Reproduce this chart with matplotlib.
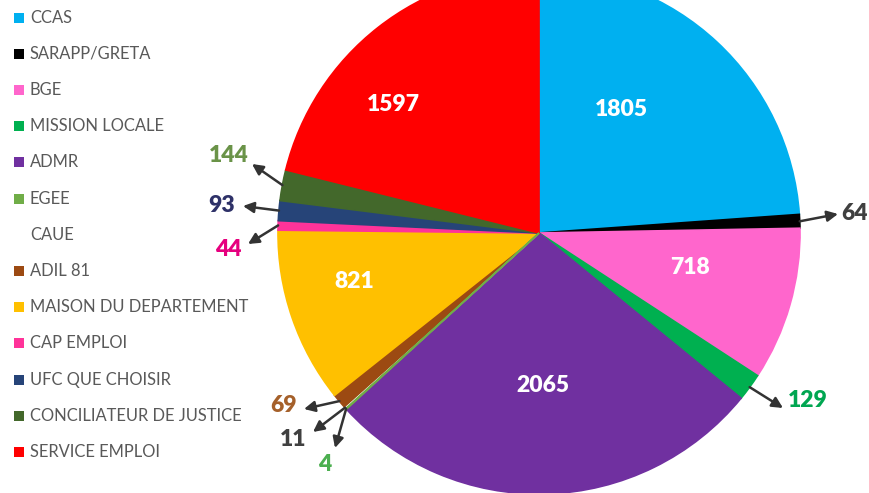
import matplotlib
matplotlib.use("Agg")
import matplotlib.pyplot as plt
from matplotlib.patches import Rectangle
import numpy as np

categories = ["CCAS", "SARAPP/GRETA", "BGE", "MISSION LOCALE", "ADMR", "EGEE", "CAUE",
              "ADIL 81", "MAISON DU DEPARTEMENT", "CAP EMPLOI", "UFC QUE CHOISIR",
              "CONCILIATEUR DE JUSTICE", "SERVICE EMPLOI"]
values = [1805, 64, 718, 129, 2065, 4, 11, 69, 821, 44, 93, 144, 1597]
colors = ["#00B0F0", "#000000", "#FF66CC", "#00B050", "#7030A0", "#70AD47", "#FFFFFF",
          "#9C4A12", "#FFC000", "#FF3399", "#264478", "#43682B", "#FF0000"]

W, H = 870, 493
fig = plt.figure(figsize=(W / 100, H / 100), dpi=100)
ax = fig.add_axes([0, 0, 1, 1])

cx, cy, R = 539, H - 233, 261
wedges, _ = ax.pie(values, colors=colors, startangle=90, counterclock=False,
                   center=(cx, cy), radius=R, wedgeprops=dict(linewidth=0))
for w, c in zip(wedges, colors):
    w.set_edgecolor(c)
    w.set_linewidth(1.2)
wedges[5].set_zorder(wedges[6].get_zorder() + 0.5)
ax.set_xlim(0, W)
ax.set_ylim(0, H)
ax.set_aspect("equal")
ax.axis("off")

font = "Lato"
# inside labels (pixel positions, y from top)
inside = {0: (621, 110), 2: (690, 268), 4: (543, 385), 8: (354, 282), 12: (393, 104)}
for i, (px, py) in inside.items():
    ax.text(px, H - py, str(values[i]), color="white", fontsize=16.5, fontweight="heavy",
            family=font, ha="center", va="center")

# outside labels: index -> (label pos, arrow end, color)
outside = {
    1: ((855, 214), (838, 214), "#404040"),
    3: ((808, 401), (783, 408), "#00A651"),
    5: ((325, 465), (335, 448), "#4CAF50"),
    6: ((293, 440), (313, 432), "#404040"),
    7: ((284, 406), (304, 409), "#A5602A"),
    9: ((228, 250), (248, 244), "#E6007E"),
    10: ((222, 206), (243, 206), "#2E3168"),
    11: ((229, 156), (252, 164), "#6A9348"),
}
for i, (lp, ae, col) in outside.items():
    w = wedges[i]
    mid = np.deg2rad((w.theta1 + w.theta2) / 2)
    sx, sy = cx + R * np.cos(mid), cy + R * np.sin(mid)
    ax.annotate("", xy=(ae[0], H - ae[1]), xytext=(sx, sy),
                arrowprops=dict(arrowstyle="-|>", color="#333333", lw=1.8,
                                mutation_scale=16, shrinkA=0, shrinkB=0))
    ax.text(lp[0], H - lp[1], str(values[i]), color=col, fontsize=16.5, fontweight="heavy",
            family=font, ha="center", va="center")

# legend
y0, dy = 17.5, 36.2
for k, (lab, col) in enumerate(zip(categories, colors)):
    y = H - (y0 + k * dy)
    ax.add_patch(Rectangle((14, y - 5), 10, 10, facecolor=col, edgecolor="none"))
    ax.text(30, y, lab, color="#595959", fontsize=11.9, family=font, ha="left", va="center")

fig.savefig("out.png", dpi=100)
